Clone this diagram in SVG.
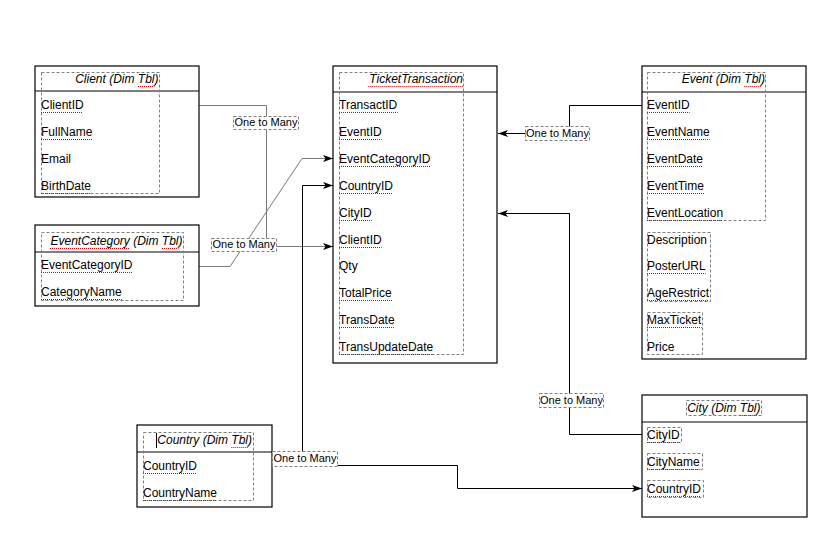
<svg xmlns="http://www.w3.org/2000/svg" width="840" height="540" viewBox="0 0 840 540">
<style>
.box{fill:#fff;stroke:#000;stroke-width:1.2}
.div{stroke:#000;stroke-width:1.2}
.dot{fill:none;stroke:#808080;stroke-width:1;stroke-dasharray:3 2}
.t{font-family:"Liberation Sans",Arial,sans-serif;font-size:12px;fill:#000}
.ti{font-family:"Liberation Sans",Arial,sans-serif;font-size:12px;font-style:italic;fill:#000}
.lt{font-family:"Liberation Sans",Arial,sans-serif;font-size:11px;fill:#000;text-anchor:middle}
.lb{fill:#fff;stroke:#808080;stroke-width:1;stroke-dasharray:3 2}
.c{fill:none;stroke:#000;stroke-width:1}
.g{fill:none;stroke:#7a7a7a;stroke-width:1}
.sq{fill:none;stroke:#e00000;stroke-width:1;stroke-dasharray:1 1}
</style>
<defs>
<marker id="arr" markerUnits="userSpaceOnUse" markerWidth="11" markerHeight="9" refX="10" refY="4.5" orient="auto">
<path d="M0,1 L10,4.5 L0,8 L2.5,4.5 Z" fill="#000"/>
</marker>
</defs>

<g id="connectors">
<path class="g" d="M199,105.5 H266.5 V246.5 H333" marker-end="url(#arr)"/>
<path class="g" d="M199,266.5 H230 L302,158.5 H333" marker-end="url(#arr)"/>
<path class="c" d="M302.5,458 V185.5 H333" marker-end="url(#arr)"/>
<path class="c" d="M300,465.5 H457.5 V488.5 H642" marker-end="url(#arr)"/>
<path class="c" d="M642,105.5 H569.5 V133.5 H498" marker-end="url(#arr)"/>
<path class="c" d="M642,434.5 H569.5 V213.5 H498" marker-end="url(#arr)"/>
</g>

<g id="client">
<rect class="box" x="35" y="66" width="164" height="131"/>
<line class="div" x1="35" y1="91" x2="199" y2="91"/>
<rect class="dot" x="41.5" y="72.5" width="118" height="121"/>
<text class="ti" x="158.5" y="82.5" text-anchor="end">Client (Dim Tbl)</text>
<text class="t" x="41" y="109">ClientID</text>
<text class="t" x="41" y="135.9">FullName</text>
<text class="t" x="41" y="162.8">Email</text>
<text class="t" x="41" y="189.7">BirthDate</text>
</g>

<g id="eventcategory">
<rect class="box" x="35" y="225" width="164" height="81"/>
<line class="div" x1="35" y1="252" x2="199" y2="252"/>
<rect class="dot" x="41.5" y="232.5" width="142" height="68"/>
<text class="ti" x="182.5" y="245" text-anchor="end">EventCategory (Dim Tbl)</text>
<text class="t" x="41" y="269">EventCategoryID</text>
<text class="t" x="41" y="296">CategoryName</text>
</g>

<g id="tickettransaction">
<rect class="box" x="333" y="66" width="164" height="297"/>
<line class="div" x1="333" y1="92" x2="497" y2="92"/>
<rect class="dot" x="339.5" y="72.5" width="124" height="282"/>
<text class="ti" x="463" y="82.5" text-anchor="end">TicketTransaction</text>
<text class="t" x="339" y="109">TransactID</text>
<text class="t" x="339" y="135.9">EventID</text>
<text class="t" x="339" y="162.8">EventCategoryID</text>
<text class="t" x="339" y="189.7">CountryID</text>
<text class="t" x="339" y="216.6">CityID</text>
<text class="t" x="339" y="243.5">ClientID</text>
<text class="t" x="339" y="270.4">Qty</text>
<text class="t" x="339" y="297.3">TotalPrice</text>
<text class="t" x="339" y="324.2">TransDate</text>
<text class="t" x="339" y="351.1">TransUpdateDate</text>
</g>

<g id="event">
<rect class="box" x="642" y="66" width="164" height="293"/>
<line class="div" x1="642" y1="92" x2="806" y2="92"/>
<rect class="dot" x="647.5" y="72.5" width="118" height="148"/>
<rect class="dot" x="647.5" y="232.5" width="63" height="69"/>
<rect class="dot" x="647.5" y="312.5" width="55" height="42"/>
<text class="ti" x="765" y="82.5" text-anchor="end">Event (Dim Tbl)</text>
<text class="t" x="647" y="109">EventID</text>
<text class="t" x="647" y="135.9">EventName</text>
<text class="t" x="647" y="162.8">EventDate</text>
<text class="t" x="647" y="189.7">EventTime</text>
<text class="t" x="647" y="216.6">EventLocation</text>
<text class="t" x="647" y="243.5">Description</text>
<text class="t" x="647" y="270.4">PosterURL</text>
<text class="t" x="647" y="297.3">AgeRestrict</text>
<text class="t" x="647" y="324.2">MaxTicket</text>
<text class="t" x="647" y="351.1">Price</text>
</g>

<g id="country">
<rect class="box" x="137" y="425" width="135" height="82"/>
<line class="div" x1="137" y1="452" x2="272" y2="452"/>
<rect class="dot" x="143.5" y="432.5" width="110" height="68"/>
<line x1="156.5" y1="433" x2="156.5" y2="448" stroke="#000" stroke-width="1"/>
<text class="ti" x="252" y="443.5" text-anchor="end">Country (Dim Tbl)</text>
<text class="t" x="143" y="470">CountryID</text>
<text class="t" x="143" y="496.7">CountryName</text>
</g>

<g id="city">
<rect class="box" x="642" y="395" width="165" height="122"/>
<line class="div" x1="642" y1="422" x2="807" y2="422"/>
<rect class="dot" x="686.5" y="400.5" width="75" height="15"/>
<rect class="dot" x="647.5" y="427.5" width="34" height="15"/>
<rect class="dot" x="647.5" y="453.5" width="55" height="16"/>
<rect class="dot" x="647.5" y="480.5" width="56" height="17"/>
<text class="ti" x="760.5" y="412" text-anchor="end">City (Dim Tbl)</text>
<text class="t" x="647" y="439">CityID</text>
<text class="t" x="647" y="466">CityName</text>
<text class="t" x="647" y="492.7">CountryID</text>
</g>

<g id="labels">
<rect class="lb" x="233.5" y="116.5" width="65" height="13"/>
<text class="lt" x="266" y="126">One to Many</text>
<rect class="lb" x="211.5" y="238.5" width="65" height="13"/>
<text class="lt" x="244" y="248">One to Many</text>
<rect class="lb" x="525.5" y="126.5" width="64" height="14"/>
<text class="lt" x="557.5" y="136.5">One to Many</text>
<rect class="lb" x="539.5" y="393.5" width="64" height="14"/>
<text class="lt" x="571.5" y="403.5">One to Many</text>
<rect class="lb" x="272.5" y="451.5" width="65" height="15"/>
<text class="lt" x="305" y="462">One to Many</text>
</g>

<g id="spellcheck">
<path class="sq" d="M138,86.5 H154.5 M41,112.5 H83 M41,139.5 H92 M41,193.5 H91
M50,248.5 H129.5 M162,248.5 H178.5 M41,272.5 H132 M41,299.5 H122
M368.3,86.5 H463 M339,112.5 H397.7 M339,139.5 H381.7 M339,166.5 H430 M339,193.5 H393 M339,220.5 H371.7 M339,247.5 H381.7 M339,300.5 H393 M339,327.5 H395 M339,354.5 H433.7
M744.3,86.5 H761 M647,112.5 H689.7 M647,139.5 H709.7 M647,166.5 H703 M647,193.5 H704.3 M647,220.5 H723 M647,273.5 H705.7 M647,300.5 H709 M647,327.5 H701.7
M231.3,447.5 H248 M143,473.5 H197 M143,500.5 H217
M739.8,415.5 H756.5 M647,442.5 H679.7 M647,469.5 H699.7 M647,496.5 H701"/>
</g>
</svg>
